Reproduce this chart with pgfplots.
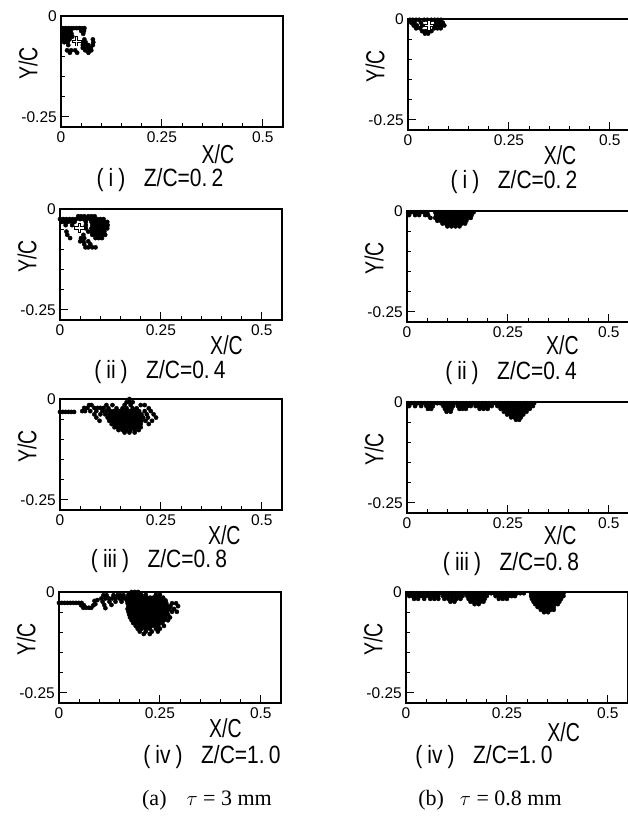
\documentclass[border=0pt]{standalone}
\usepackage{pgfplots}
\pgfplotsset{compat=1.18}
\usepackage{fontspec}
\setmainfont{Liberation Sans}
\newfontfamily\timesfont{Liberation Serif}
\newcommand{\tickf}{\fontsize{15.5}{15.5}\selectfont}
\newcommand{\labf}[1]{\scalebox{0.75}[1]{\fontsize{26}{26}\selectfont #1}}
\newcommand{\capt}[2]{\scalebox{0.84}[1]{\fontsize{25}{25}\selectfont(\hspace{6pt}#1\hspace{6pt})\hspace{22pt}Z/C=#2}}
\pgfplotsset{
 pan/.style={scale only axis, width=222pt, height=111pt, xmin=0,xmax=0.55,ymin=-0.275,ymax=0,
   xtick={0,0.25,0.5}, xticklabels={0,0.25,0.5}, ytick={-0.25,0}, yticklabels={-0.25,0},
   minor xtick={0.05,0.1,0.15,0.2,0.3,0.35,0.4,0.45}, minor ytick={-0.2,-0.15,-0.1,-0.05},
   major tick length=8pt, minor tick length=4pt, tick align=inside, xtick pos=lower, ytick pos=left,
   tick style={black, line width=0.9pt},
   ticklabel style={font=\tickf},
   axis line style={line width=1.1pt},
   xlabel={\labf{X/C}}, ylabel={\labf{Y/C}},
   every axis x label/.style={at={(rel axis cs:0.72,0)}, anchor=center, inner sep=0pt},
   every axis y label/.style={at={(rel axis cs:0,0.57)}, anchor=center, xshift=-33pt, rotate=90, inner sep=0pt},
   anchor=north west},
 pts/.style={only marks, mark=*, mark size=2.1pt, black},
 plusb/.style={only marks, mark=+, mark size=5pt, line width=3.2pt, black},
 plusw/.style={only marks, mark=+, mark size=4.2pt, line width=1.3pt, white},
}
\begin{document}
\begin{tikzpicture}[every node/.append style={inner sep=0pt}]
\useasboundingbox (0pt,0pt) rectangle (628pt,-823pt);
% ---------- (a)(i)
\begin{axis}[pan, at={(61pt,-16pt)}, every axis x label/.append style={at={(rel axis cs:0.707,0)},yshift=-27pt}, ticklabel style={inner sep=4pt}]
\addplot[pts] coordinates {
(0.004,-0.030)(0.011,-0.030)(0.018,-0.030)(0.025,-0.030)(0.032,-0.030)(0.039,-0.030)(0.046,-0.030)(0.052,-0.030)(0.058,-0.030)
(0.004,-0.037)(0.011,-0.037)(0.018,-0.037)(0.024,-0.037)(0.050,-0.037)(0.057,-0.037)
(0.004,-0.044)(0.011,-0.044)(0.018,-0.044)(0.026,-0.044)(0.055,-0.044)
(0.005,-0.051)(0.012,-0.051)(0.020,-0.051)(0.028,-0.051)
(0.006,-0.058)(0.014,-0.058)(0.021,-0.058)(0.058,-0.058)(0.079,-0.058)
(0.008,-0.065)(0.016,-0.065)(0.055,-0.065)(0.061,-0.065)(0.080,-0.065)
(0.018,-0.072)(0.054,-0.072)(0.061,-0.072)(0.068,-0.072)(0.079,-0.072)
(0.054,-0.079)(0.060,-0.079)(0.067,-0.079)(0.074,-0.079)
(0.015,-0.085)(0.025,-0.085)(0.035,-0.085)(0.060,-0.085)(0.068,-0.085)(0.075,-0.085)
(0.022,-0.091)(0.040,-0.091)(0.068,-0.091)
};
\addplot[plusb] coordinates {(0.039,-0.063)};
\addplot[plusw] coordinates {(0.039,-0.063)};
\end{axis}
% ---------- (a)(ii)
\begin{axis}[pan, at={(60pt,-209pt)}, every axis x label/.append style={at={(rel axis cs:0.75,0)},yshift=-25pt}, ticklabel style={inner sep=4pt}]
\addplot[pts] coordinates {
(0.045,-0.018)(0.052,-0.018)(0.060,-0.018)(0.070,-0.018)(0.078,-0.018)(0.086,-0.018)
(0.000,-0.025)(0.008,-0.025)(0.016,-0.025)(0.024,-0.025)(0.032,-0.025)(0.040,-0.025)(0.050,-0.025)(0.058,-0.025)(0.066,-0.025)(0.075,-0.025)(0.084,-0.025)(0.092,-0.025)(0.100,-0.025)(0.108,-0.025)
(0.004,-0.032)(0.012,-0.032)(0.020,-0.032)(0.030,-0.032)(0.036,-0.032)(0.064,-0.032)(0.078,-0.032)(0.086,-0.032)(0.094,-0.032)(0.102,-0.032)(0.110,-0.032)(0.117,-0.032)
(0.014,-0.040)(0.030,-0.040)(0.064,-0.040)(0.080,-0.040)(0.088,-0.040)(0.096,-0.040)(0.104,-0.040)(0.112,-0.040)(0.118,-0.040)
(0.064,-0.048)(0.078,-0.048)(0.086,-0.048)(0.094,-0.048)(0.102,-0.048)(0.110,-0.048)(0.117,-0.048)
(0.016,-0.056)(0.070,-0.056)(0.078,-0.056)(0.086,-0.056)(0.094,-0.056)(0.102,-0.056)(0.110,-0.056)
(0.018,-0.064)(0.058,-0.064)(0.080,-0.064)(0.088,-0.064)(0.096,-0.064)(0.104,-0.064)(0.112,-0.064)
(0.025,-0.072)(0.052,-0.072)(0.060,-0.072)(0.088,-0.072)(0.096,-0.072)(0.104,-0.072)
(0.050,-0.080)(0.058,-0.080)(0.070,-0.080)
(0.060,-0.087)(0.075,-0.087)
(0.063,-0.095)(0.070,-0.095)(0.080,-0.095)(0.088,-0.095)
};
\addplot[plusb] coordinates {(0.048,-0.047)};
\addplot[plusw] coordinates {(0.048,-0.047)};
\end{axis}
% ---------- (a)(iii)
\begin{axis}[pan, at={(60pt,-399pt)}, every axis x label/.append style={at={(rel axis cs:0.74,0)},yshift=-25pt}, ticklabel style={inner sep=4pt}]
\addplot[pts] coordinates {
(0.000,-0.032)(0.007,-0.032)(0.014,-0.032)(0.021,-0.032)(0.028,-0.032)(0.035,-0.032)
(0.055,-0.030)(0.062,-0.030)
(0.172,0.000)(0.165,-0.008)(0.172,-0.008)(0.180,-0.008)
(0.072,-0.015)(0.078,-0.015)(0.115,-0.015)(0.130,-0.015)(0.160,-0.015)(0.175,-0.015)(0.200,-0.015)(0.210,-0.015)
(0.060,-0.022)(0.068,-0.022)(0.085,-0.022)(0.093,-0.022)(0.100,-0.022)(0.108,-0.022)(0.120,-0.023)(0.140,-0.023)(0.155,-0.023)(0.165,-0.023)(0.180,-0.023)(0.190,-0.023)(0.220,-0.023)
(0.075,-0.030)(0.090,-0.030)(0.105,-0.030)(0.115,-0.030)(0.125,-0.030)(0.133,-0.030)(0.140,-0.030)(0.148,-0.030)(0.156,-0.030)(0.164,-0.030)(0.172,-0.030)(0.180,-0.030)(0.188,-0.030)(0.196,-0.030)(0.210,-0.030)(0.225,-0.030)
(0.085,-0.038)(0.100,-0.038)(0.112,-0.038)(0.122,-0.038)(0.130,-0.038)(0.138,-0.038)(0.146,-0.038)(0.154,-0.038)(0.162,-0.038)(0.170,-0.038)(0.178,-0.038)(0.186,-0.038)(0.194,-0.038)(0.202,-0.038)(0.215,-0.038)(0.232,-0.038)
(0.090,-0.046)(0.118,-0.046)(0.126,-0.046)(0.134,-0.046)(0.142,-0.046)(0.150,-0.046)(0.158,-0.046)(0.166,-0.046)(0.174,-0.046)(0.182,-0.046)(0.190,-0.046)(0.198,-0.046)(0.206,-0.046)(0.218,-0.046)(0.238,-0.046)
(0.098,-0.054)(0.122,-0.054)(0.130,-0.054)(0.138,-0.054)(0.146,-0.054)(0.154,-0.054)(0.162,-0.054)(0.170,-0.054)(0.178,-0.054)(0.186,-0.054)(0.194,-0.054)(0.202,-0.054)(0.212,-0.054)(0.228,-0.054)
(0.128,-0.062)(0.136,-0.062)(0.144,-0.062)(0.152,-0.062)(0.160,-0.062)(0.168,-0.062)(0.176,-0.062)(0.184,-0.062)(0.192,-0.062)(0.200,-0.062)(0.220,-0.062)
(0.135,-0.070)(0.143,-0.070)(0.151,-0.070)(0.159,-0.070)(0.167,-0.070)(0.175,-0.070)(0.183,-0.070)(0.191,-0.070)(0.200,-0.070)
(0.145,-0.077)(0.155,-0.077)(0.165,-0.077)(0.175,-0.077)(0.185,-0.077)(0.195,-0.077)
(0.160,-0.083)(0.172,-0.083)(0.185,-0.083)
};
\end{axis}
% ---------- (a)(iv)
\begin{axis}[pan, at={(59pt,-592pt)}, every axis x label/.append style={at={(rel axis cs:0.75,0)},yshift=-25pt}, ticklabel style={inner sep=4pt}]
\addplot[pts] coordinates {
(0.000,-0.027)(0.007,-0.027)(0.014,-0.027)(0.021,-0.027)(0.028,-0.027)(0.035,-0.027)(0.042,-0.027)(0.049,-0.027)(0.056,-0.027)
(0.055,-0.033)(0.062,-0.033)(0.085,-0.033)(0.090,-0.030)
(0.060,-0.039)(0.067,-0.039)(0.074,-0.039)(0.080,-0.039)
(0.088,-0.022)(0.095,-0.020)
(0.110,-0.008)(0.118,-0.008)(0.135,-0.008)(0.145,-0.008)(0.152,-0.008)(0.160,-0.008)
(0.105,-0.016)(0.115,-0.016)(0.124,-0.016)(0.132,-0.016)(0.140,-0.016)(0.150,-0.016)(0.158,-0.016)(0.166,-0.016)
(0.108,-0.024)(0.125,-0.024)(0.140,-0.024)(0.155,-0.024)
(0.112,-0.032)(0.130,-0.032)(0.115,-0.040)
(0.180,0.000)(0.188,0.000)(0.196,0.000)
(0.172,-0.007)(0.180,-0.007)(0.188,-0.007)(0.196,-0.007)(0.204,-0.007)(0.215,-0.007)(0.240,-0.007)(0.250,-0.007)
(0.170,-0.014)(0.178,-0.014)(0.186,-0.014)(0.194,-0.014)(0.202,-0.014)(0.210,-0.014)(0.218,-0.014)(0.226,-0.014)(0.234,-0.014)(0.242,-0.014)(0.250,-0.014)(0.258,-0.014)
(0.168,-0.021)(0.176,-0.021)(0.184,-0.021)(0.192,-0.021)(0.200,-0.021)(0.208,-0.021)(0.216,-0.021)(0.224,-0.021)(0.232,-0.021)(0.240,-0.021)(0.248,-0.021)(0.256,-0.021)(0.264,-0.021)
(0.170,-0.028)(0.178,-0.028)(0.186,-0.028)(0.194,-0.028)(0.202,-0.028)(0.210,-0.028)(0.218,-0.028)(0.226,-0.028)(0.234,-0.028)(0.242,-0.028)(0.250,-0.028)(0.258,-0.028)(0.266,-0.028)(0.280,-0.028)(0.290,-0.028)
(0.172,-0.035)(0.180,-0.035)(0.188,-0.035)(0.196,-0.035)(0.204,-0.035)(0.212,-0.035)(0.220,-0.035)(0.228,-0.035)(0.236,-0.035)(0.244,-0.035)(0.252,-0.035)(0.260,-0.035)(0.268,-0.035)(0.276,-0.035)(0.295,-0.035)
(0.170,-0.042)(0.178,-0.042)(0.186,-0.042)(0.194,-0.042)(0.202,-0.042)(0.210,-0.042)(0.218,-0.042)(0.226,-0.042)(0.234,-0.042)(0.242,-0.042)(0.250,-0.042)(0.258,-0.042)(0.266,-0.042)(0.274,-0.042)(0.285,-0.042)
(0.172,-0.049)(0.180,-0.049)(0.188,-0.049)(0.196,-0.049)(0.204,-0.049)(0.212,-0.049)(0.220,-0.049)(0.228,-0.049)(0.236,-0.049)(0.244,-0.049)(0.252,-0.049)(0.260,-0.049)(0.268,-0.049)(0.280,-0.049)(0.292,-0.049)
(0.174,-0.056)(0.182,-0.056)(0.190,-0.056)(0.198,-0.056)(0.206,-0.056)(0.214,-0.056)(0.222,-0.056)(0.230,-0.056)(0.238,-0.056)(0.246,-0.056)(0.254,-0.056)(0.262,-0.056)(0.270,-0.056)
(0.176,-0.063)(0.184,-0.063)(0.192,-0.063)(0.200,-0.063)(0.208,-0.063)(0.216,-0.063)(0.224,-0.063)(0.232,-0.063)(0.240,-0.063)(0.248,-0.063)(0.256,-0.063)(0.264,-0.063)(0.275,-0.063)
(0.180,-0.070)(0.188,-0.070)(0.196,-0.070)(0.204,-0.070)(0.212,-0.070)(0.220,-0.070)(0.228,-0.070)(0.236,-0.070)(0.244,-0.070)(0.252,-0.070)(0.260,-0.070)(0.270,-0.070)
(0.184,-0.077)(0.192,-0.077)(0.200,-0.077)(0.208,-0.077)(0.216,-0.077)(0.224,-0.077)(0.232,-0.077)(0.240,-0.077)(0.248,-0.077)(0.256,-0.077)
(0.190,-0.084)(0.198,-0.084)(0.206,-0.084)(0.214,-0.084)(0.222,-0.084)(0.230,-0.084)(0.238,-0.084)(0.246,-0.084)(0.260,-0.084)
(0.195,-0.091)(0.205,-0.091)(0.215,-0.091)(0.225,-0.091)(0.240,-0.091)(0.250,-0.091)
(0.200,-0.098)(0.215,-0.098)(0.230,-0.098)(0.245,-0.098)
(0.210,-0.104)(0.225,-0.104)
};
\end{axis}
% ---------- (b)(i)
\begin{axis}[pan, at={(408pt,-19pt)}, every axis x label/.append style={at={(rel axis cs:0.685,0)},yshift=-25pt}, ticklabel style={inner sep=4pt}]
\addplot[pts] coordinates {
(0.005,-0.002)(0.012,-0.002)(0.020,-0.002)(0.028,-0.002)(0.040,-0.002)(0.048,-0.002)(0.058,-0.002)(0.066,-0.002)(0.074,-0.002)(0.082,-0.002)
(0.008,-0.009)(0.016,-0.009)(0.032,-0.009)(0.070,-0.009)(0.078,-0.009)(0.086,-0.009)
(0.014,-0.016)(0.022,-0.016)(0.035,-0.016)(0.068,-0.016)(0.076,-0.016)(0.084,-0.016)(0.090,-0.016)
(0.020,-0.023)(0.030,-0.023)(0.065,-0.023)(0.073,-0.023)(0.081,-0.023)
(0.035,-0.030)(0.043,-0.030)(0.050,-0.030)(0.058,-0.030)
(0.042,-0.036)(0.050,-0.036)
};
\addplot[plusb] coordinates {(0.052,-0.016)};
\addplot[plusw] coordinates {(0.052,-0.016)};
\draw[line width=2pt] (rel axis cs:0,1) -- (rel axis cs:1,1);
\end{axis}
% ---------- (b)(ii)
\begin{axis}[pan, at={(407pt,-211pt)}, every axis x label/.append style={at={(rel axis cs:0.70,0)},yshift=-23pt}, ticklabel style={inner sep=4pt}]
\addplot[pts] coordinates {
(0.003,-0.003)(0.010,-0.003)(0.018,-0.003)(0.026,-0.003)(0.034,-0.003)(0.042,-0.003)(0.050,-0.003)(0.070,-0.003)(0.078,-0.003)(0.086,-0.003)(0.094,-0.003)(0.102,-0.003)(0.110,-0.003)(0.118,-0.003)(0.126,-0.003)(0.134,-0.003)(0.142,-0.003)(0.150,-0.003)(0.158,-0.003)(0.165,-0.003)
(0.005,-0.010)(0.020,-0.010)(0.030,-0.010)(0.045,-0.010)(0.052,-0.010)(0.072,-0.010)(0.080,-0.010)(0.088,-0.010)(0.096,-0.010)(0.104,-0.010)(0.112,-0.010)(0.120,-0.010)(0.128,-0.010)(0.136,-0.010)(0.144,-0.010)(0.152,-0.010)(0.160,-0.010)
(0.058,-0.017)(0.070,-0.017)(0.078,-0.017)(0.086,-0.017)(0.094,-0.017)(0.102,-0.017)(0.110,-0.017)(0.118,-0.017)(0.126,-0.017)(0.134,-0.017)(0.142,-0.017)(0.150,-0.017)(0.158,-0.017)
(0.075,-0.024)(0.083,-0.024)(0.091,-0.024)(0.099,-0.024)(0.107,-0.024)(0.115,-0.024)(0.123,-0.024)(0.131,-0.024)(0.139,-0.024)(0.147,-0.024)
(0.088,-0.031)(0.096,-0.031)(0.104,-0.031)(0.112,-0.031)(0.120,-0.031)(0.128,-0.031)(0.136,-0.031)(0.144,-0.031)
(0.100,-0.038)(0.110,-0.038)(0.120,-0.038)(0.130,-0.038)
};
\draw[line width=2pt] (rel axis cs:0,1) -- (rel axis cs:1,1);
\end{axis}
% ---------- (b)(iii)
\begin{axis}[pan, at={(407pt,-402pt)}, every axis x label/.append style={at={(rel axis cs:0.69,0)},yshift=-22pt}, ticklabel style={inner sep=4pt}]
\addplot[pts] coordinates {
(0.003,-0.003)(0.011,-0.003)(0.019,-0.003)(0.027,-0.003)(0.035,-0.003)(0.043,-0.003)(0.051,-0.003)(0.059,-0.003)(0.067,-0.003)(0.075,-0.003)(0.083,-0.003)(0.091,-0.003)(0.099,-0.003)(0.107,-0.003)(0.115,-0.003)(0.123,-0.003)(0.131,-0.003)(0.139,-0.003)(0.147,-0.003)(0.155,-0.003)(0.163,-0.003)(0.171,-0.003)(0.179,-0.003)(0.187,-0.003)(0.195,-0.003)(0.203,-0.003)(0.211,-0.003)(0.219,-0.003)(0.227,-0.003)(0.235,-0.003)(0.243,-0.003)(0.251,-0.003)(0.259,-0.003)(0.267,-0.003)(0.275,-0.003)(0.283,-0.003)(0.291,-0.003)(0.299,-0.003)(0.307,-0.003)(0.315,-0.003)
(0.005,-0.010)(0.020,-0.010)(0.035,-0.010)(0.048,-0.010)(0.056,-0.010)(0.064,-0.010)(0.090,-0.010)(0.098,-0.010)(0.106,-0.010)(0.114,-0.010)(0.126,-0.010)(0.134,-0.010)(0.142,-0.010)(0.150,-0.010)(0.158,-0.010)(0.170,-0.010)(0.178,-0.010)(0.186,-0.010)(0.194,-0.010)(0.202,-0.010)(0.210,-0.010)(0.224,-0.010)(0.232,-0.010)(0.240,-0.010)(0.248,-0.010)(0.256,-0.010)(0.264,-0.010)(0.272,-0.010)(0.280,-0.010)(0.288,-0.010)(0.296,-0.010)(0.304,-0.010)(0.312,-0.010)
(0.052,-0.017)(0.060,-0.017)(0.094,-0.017)(0.102,-0.017)(0.110,-0.017)(0.130,-0.017)(0.138,-0.017)(0.146,-0.017)(0.180,-0.017)(0.190,-0.017)(0.200,-0.017)(0.232,-0.017)(0.240,-0.017)(0.248,-0.017)(0.256,-0.017)(0.264,-0.017)(0.272,-0.017)(0.280,-0.017)(0.288,-0.017)(0.296,-0.017)(0.304,-0.017)
(0.098,-0.024)(0.108,-0.024)(0.240,-0.024)(0.248,-0.024)(0.256,-0.024)(0.264,-0.024)(0.272,-0.024)(0.280,-0.024)(0.288,-0.024)(0.296,-0.024)
(0.248,-0.031)(0.256,-0.031)(0.264,-0.031)(0.272,-0.031)(0.280,-0.031)(0.288,-0.031)
(0.258,-0.038)(0.266,-0.038)(0.274,-0.038)(0.282,-0.038)
(0.270,-0.044)(0.278,-0.044)
};
\draw[line width=2pt] (rel axis cs:0,1) -- (rel axis cs:1,1);
\end{axis}
% ---------- (b)(iv)
\begin{axis}[pan, at={(406pt,-592pt)}, every axis x label/.append style={at={(rel axis cs:0.71,0)},yshift=-29pt}, ticklabel style={inner sep=4pt}]
\addplot[pts] coordinates {
(0.003,-0.003)(0.011,-0.003)(0.019,-0.003)(0.027,-0.003)(0.035,-0.003)(0.043,-0.003)(0.051,-0.003)(0.059,-0.003)(0.067,-0.003)(0.075,-0.003)(0.083,-0.003)(0.091,-0.003)(0.099,-0.003)(0.107,-0.003)(0.115,-0.003)(0.123,-0.003)(0.131,-0.003)(0.139,-0.003)(0.147,-0.003)(0.155,-0.003)(0.163,-0.003)(0.171,-0.003)(0.179,-0.003)(0.187,-0.003)(0.195,-0.003)(0.203,-0.003)(0.211,-0.003)(0.219,-0.003)(0.227,-0.003)(0.235,-0.003)(0.243,-0.003)(0.251,-0.003)(0.259,-0.003)(0.267,-0.003)(0.275,-0.003)(0.283,-0.003)(0.292,-0.003)(0.310,-0.003)(0.318,-0.003)(0.326,-0.003)(0.334,-0.003)(0.342,-0.003)(0.350,-0.003)(0.358,-0.003)(0.366,-0.003)(0.374,-0.003)(0.382,-0.003)(0.390,-0.003)
(0.008,-0.010)(0.016,-0.010)(0.024,-0.010)(0.032,-0.010)(0.040,-0.010)(0.048,-0.010)(0.056,-0.010)(0.064,-0.010)(0.072,-0.010)(0.080,-0.010)(0.092,-0.010)(0.100,-0.010)(0.108,-0.010)(0.116,-0.010)(0.124,-0.010)(0.132,-0.010)(0.140,-0.010)(0.152,-0.010)(0.160,-0.010)(0.168,-0.010)(0.176,-0.010)(0.184,-0.010)(0.192,-0.010)(0.200,-0.010)(0.222,-0.010)(0.230,-0.010)(0.238,-0.010)(0.246,-0.010)(0.254,-0.010)(0.262,-0.010)(0.270,-0.010)(0.310,-0.010)(0.318,-0.010)(0.326,-0.010)(0.334,-0.010)(0.342,-0.010)(0.350,-0.010)(0.358,-0.010)(0.366,-0.010)(0.374,-0.010)(0.382,-0.010)(0.390,-0.010)
(0.020,-0.017)(0.030,-0.017)(0.045,-0.017)(0.060,-0.017)(0.070,-0.017)(0.080,-0.017)(0.095,-0.017)(0.105,-0.017)(0.115,-0.017)(0.125,-0.017)(0.135,-0.017)(0.155,-0.017)(0.163,-0.017)(0.171,-0.017)(0.179,-0.017)(0.187,-0.017)(0.195,-0.017)(0.230,-0.017)(0.240,-0.017)(0.250,-0.017)(0.312,-0.017)(0.320,-0.017)(0.328,-0.017)(0.336,-0.017)(0.344,-0.017)(0.352,-0.017)(0.360,-0.017)(0.368,-0.017)(0.376,-0.017)(0.384,-0.017)
(0.110,-0.024)(0.120,-0.024)(0.160,-0.024)(0.168,-0.024)(0.176,-0.024)(0.184,-0.024)(0.192,-0.024)(0.316,-0.024)(0.324,-0.024)(0.332,-0.024)(0.340,-0.024)(0.348,-0.024)(0.356,-0.024)(0.364,-0.024)(0.372,-0.024)(0.380,-0.024)
(0.170,-0.030)(0.180,-0.030)(0.320,-0.030)(0.328,-0.030)(0.336,-0.030)(0.344,-0.030)(0.352,-0.030)(0.360,-0.030)(0.368,-0.030)(0.376,-0.030)
(0.326,-0.037)(0.334,-0.037)(0.342,-0.037)(0.350,-0.037)(0.358,-0.037)(0.366,-0.037)
(0.334,-0.044)(0.342,-0.044)(0.350,-0.044)(0.358,-0.044)(0.366,-0.044)
(0.342,-0.050)(0.352,-0.050)
};
\draw[line width=2pt] (rel axis cs:0,1) -- (rel axis cs:1,1);
\end{axis}
% ---------- captions
\node at (160pt,-180pt) {\capt{i}{0.\hspace{5pt}2}};
\node at (160pt,-372pt) {\capt{ii}{0.\hspace{5pt}4}};
\node at (159pt,-561pt) {\capt{iii}{0.\hspace{5pt}8}};
\node at (212pt,-757pt) {\capt{iv}{1.\hspace{5pt}0}};
\node at (514pt,-182pt) {\capt{i}{0.\hspace{5pt}2}};
\node at (511pt,-373pt) {\capt{ii}{0.\hspace{5pt}4}};
\node at (511pt,-564pt) {\capt{iii}{0.\hspace{5pt}8}};
\node at (484pt,-757pt) {\capt{iv}{1.\hspace{5pt}0}};
\node at (207pt,-800pt) {\timesfont\fontsize{22}{22}\selectfont (a)\hspace{20pt}$\tau$ = 3 mm};
\node at (490pt,-800pt) {\timesfont\fontsize{22}{22}\selectfont (b)\hspace{16pt}$\tau$ = 0.8 mm};
\end{tikzpicture}
\end{document}
